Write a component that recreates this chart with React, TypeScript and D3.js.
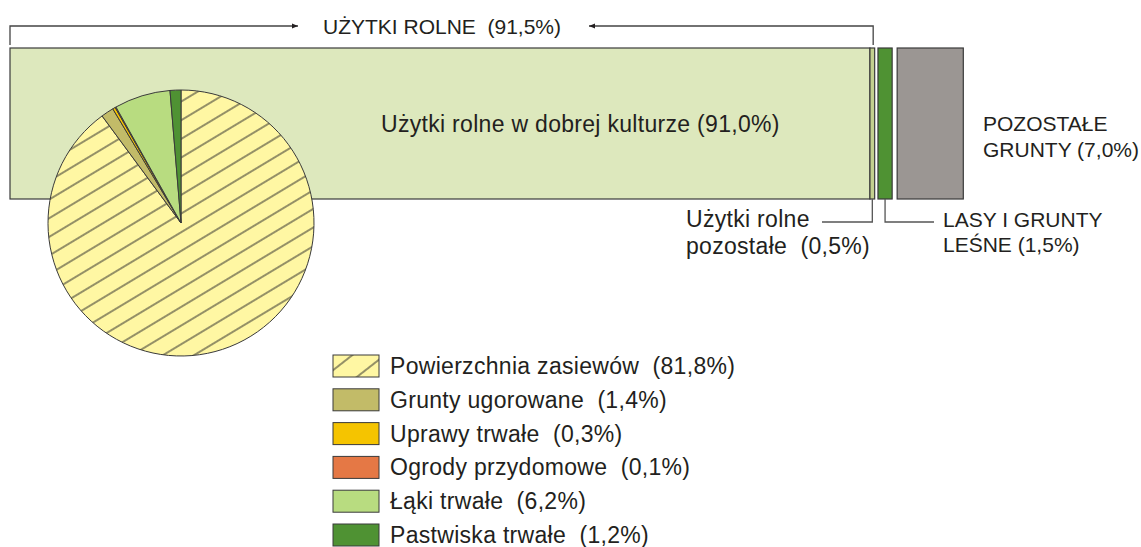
import React from 'react';
import * as d3 from 'd3';

// ---- data ----
const barLabels = ['Użytki rolne w dobrej kulturze', 'Użytki rolne pozostałe', 'Lasy i grunty leśne', 'Pozostałe grunty'];
const barValues = [91.0, 0.5, 1.5, 7.0];
const barColors = ['#dde8bd', '#c3d08f', '#4f9233', '#9b9693'];

const pieLabels = ['Powierzchnia zasiewów', 'Grunty ugorowane', 'Uprawy trwałe', 'Ogrody przydomowe', 'Łąki trwałe', 'Pastwiska trwałe'];
const pieValues = [81.8, 1.4, 0.3, 0.1, 6.2, 1.2];
const pieColors = ['url(#hatchPie)', '#c2bb68', '#f5c400', '#e57845', '#b8dc80', '#4f9233'];
const legendFills = ['url(#hatchLegend)', '#c2bb68', '#f5c400', '#e57845', '#b8dc80', '#4f9233'];

const fmt = (v: number) => v.toFixed(1).replace('.', ',');

const FONT = 'Liberation Sans, Arial, Helvetica, sans-serif';
const STROKE = '#3a3a3a';

export default function App() {
  const W = 1141, H = 547;
  const x = d3.scaleLinear().domain([0, 100]).range([0, 945]);
  const gaps = [0, 0, 3.3, 5];
  const barTop = 48, barBottom = 199;
  let cur = 10;
  const bars = barValues.map((v, i) => {
    cur += gaps[i];
    const b = { x0: cur, w: x(v), fill: barColors[i] };
    cur += x(v);
    return b;
  });

  const cx = 181, cy = 223, r = 133;
  const pie = d3.pie<number>().sort(null).startAngle(0).endAngle(2 * Math.PI);
  const arcs = pie(pieValues);
  const arcGen = d3.arc<d3.PieArcDatum<number>>().innerRadius(0).outerRadius(r);

  const legendX = 333, legendY0 = 355, legendStep = 33.8;

  const txt = { fontFamily: FONT, fill: '#231f20' } as const;
  const lower = { ...txt, fontSize: 23, letterSpacing: 0.3, whiteSpace: 'pre' } as const;
  const upper = { ...txt, fontSize: 21, whiteSpace: 'pre' } as const;

  const pzEnd = bars[1].x0 + bars[1].w / 2;
  const lasMid = bars[2].x0 + bars[2].w / 2;
  const bracketRight = bars[1].x0 + bars[1].w - 1.5;

  return (
    <div style={{ position: 'absolute', left: 0, top: 0 }}>
      <svg width={W} height={H} style={{ display: 'block', background: '#fff' }}>
        <defs>
          <pattern id="hatchPie" patternUnits="userSpaceOnUse" width={16} height={16} patternTransform="rotate(-31)">
            <rect width={16} height={16} fill="#fff7a3" />
            <line x1={0} y1={8} x2={16} y2={8} stroke="#2a2a2a" strokeWidth={1} />
          </pattern>
          <pattern id="hatchLegend" patternUnits="userSpaceOnUse" width={20} height={20} patternTransform="translate(333,355) rotate(-38)">
            <rect width={20} height={20} fill="#fff7a3" />
            <line x1={0} y1={12} x2={20} y2={12} stroke="#2a2a2a" strokeWidth={1} />
          </pattern>
          <marker id="arrow" viewBox="0 0 10 10" refX={10} refY={5} markerWidth={8} markerHeight={6} markerUnits="userSpaceOnUse" orient="auto">
            <path d="M0,1 L10,5 L0,9 Z" fill="#231f20" />
          </marker>
        </defs>

        {/* bars */}
        {bars.map((b, i) => (
          <rect key={i} x={b.x0} y={barTop} width={b.w} height={barBottom - barTop} fill={b.fill} stroke={STROKE} strokeWidth={1.2} />
        ))}

        {/* bracket */}
        <path d={`M10,45 V26 H298`} fill="none" stroke="#444" strokeWidth={1.3} markerEnd="url(#arrow)" />
        <path d={`M${bracketRight},45 V26 H589`} fill="none" stroke="#444" strokeWidth={1.3} markerEnd="url(#arrow)" />
        <text x={442} y={34} textAnchor="middle" style={upper}>{'UŻYTKI ROLNE  (91,5%)'}</text>

        {/* main bar label */}
        <text x={381} y={132} style={lower}>{`${barLabels[0]} (${fmt(barValues[0])}%)`}</text>

        {/* pozostałe grunty */}
        <text x={983} y={131} style={upper}>POZOSTAŁE</text>
        <text x={983} y={157} style={upper}>{`GRUNTY (${fmt(barValues[3])}%)`}</text>

        {/* użytki rolne pozostałe leader */}
        <path d={`M${pzEnd},${barBottom} V222 H822`} fill="none" stroke="#555" strokeWidth={1.3} />
        <text x={686} y={227} style={lower}>Użytki rolne</text>
        <text x={686} y={254} style={lower}>{`pozostałe  (${fmt(barValues[1])}%)`}</text>

        {/* lasy leader */}
        <path d={`M${lasMid},${barBottom} V222 H934`} fill="none" stroke="#555" strokeWidth={1.3} />
        <text x={943} y={227} style={upper}>LASY I GRUNTY</text>
        <text x={943} y={252} style={upper}>{`LEŚNE (${fmt(barValues[2])}%)`}</text>

        {/* pie */}
        <g transform={`translate(${cx},${cy})`}>
          {arcs.map((a, i) => (
            <path key={i} d={arcGen(a) || ''} fill={pieColors[i]} stroke={STROKE} strokeWidth={1} strokeLinejoin="round" />
          ))}
        </g>

        {/* legend */}
        {pieLabels.map((l, i) => {
          const y = legendY0 + i * legendStep;
          return (
            <g key={i}>
              <rect x={legendX} y={y} width={46} height={22} fill={legendFills[i]} stroke={STROKE} strokeWidth={1} />
              <text x={390} y={y + 19} style={lower}>{`${l}  (${fmt(pieValues[i])}%)`}</text>
            </g>
          );
        })}
      </svg>
    </div>
  );
}
